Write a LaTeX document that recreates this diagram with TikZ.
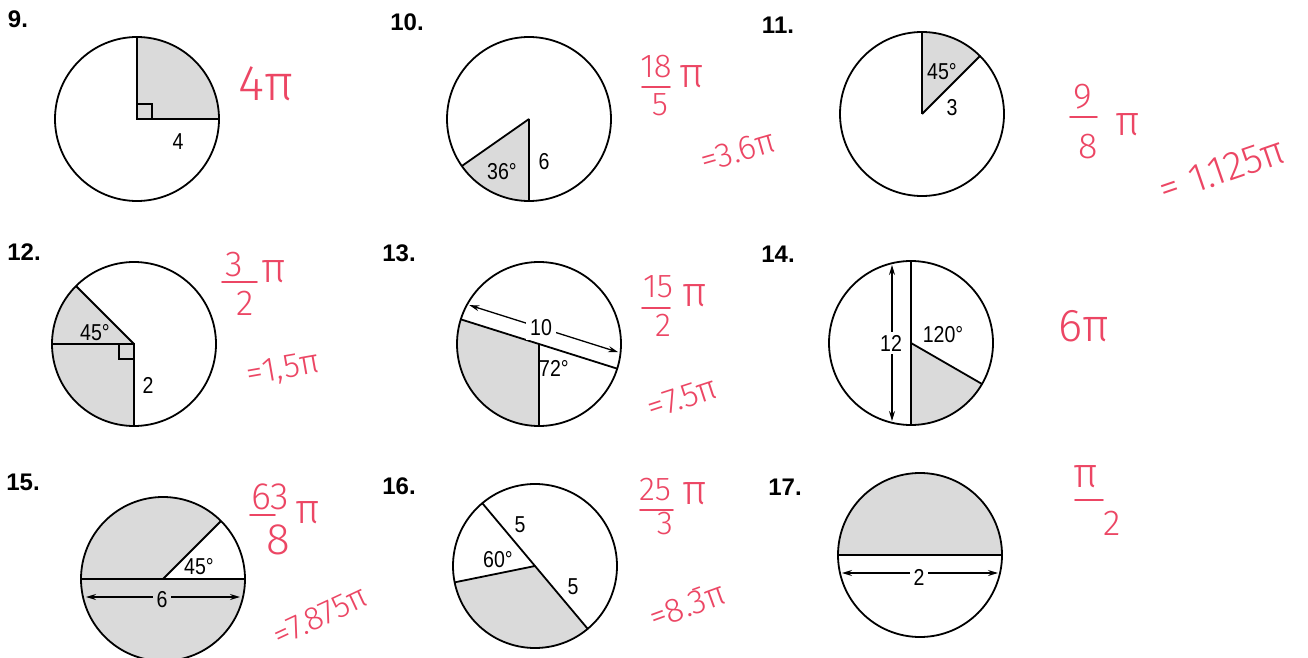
\documentclass[tikz,border=0pt]{standalone}
\usepackage{fontspec}
\setmainfont{Liberation Sans}
\newfontfamily\cond{Liberation Sans}[FakeStretch=0.85]
\newfontfamily\hand{Fira Sans}[UprightFont={* Light}]
\usetikzlibrary{arrows.meta}
\definecolor{ansred}{RGB}{236,70,100}
\definecolor{shadegray}{RGB}{218,218,218}
\begin{document}
\begin{tikzpicture}[x=1pt,y=1pt,
  outline/.style={line width=1.8pt,draw=black},
  ray/.style={line width=1.8pt,draw=black},
  shadefill/.style={fill=shadegray},
  rmark/.style={line width=1.4pt,draw=black},
  dimarrow/.style={line width=1.3pt,{Stealth[length=10pt,width=6pt]}-{Stealth[length=10pt,width=6pt]}},
  lab/.style={font=\cond\fontsize{23}{25}\selectfont,inner sep=1pt},
  num/.style={font=\bfseries\fontsize{24}{26}\selectfont,inner sep=0pt},
  ans/.style={text=ansred,inner sep=0pt},
  fbar/.style={draw=ansred,line width=1.6pt,line cap=round}]
\useasboundingbox (0,0) rectangle (1308,657);
\fill[white] (0,0) rectangle (1308,657);

% ---------- 9 ----------
\coordinate (c9) at (137,538);
\fill[shadefill] (c9) -- +(0:82) arc[start angle=0,end angle=90,radius=82] -- cycle;
\draw[rmark] (c9) rectangle +(15,15);
\draw[ray] (c9) -- +(90:82) (c9) -- +(0:82);
\draw[outline] (c9) circle[radius=82];
\node[lab] (l9) at (178,515) {4};
\node[num] (n9) at (18,638) {9.};
\node[ans,font=\hand\fontsize{50}{52}\selectfont] (a9) at (266,573) {4π};

% ---------- 10 ----------
\coordinate (c10) at (529,538);
\fill[shadefill] (c10) -- +(215:82) arc[start angle=215,end angle=270,radius=82] -- cycle;
\draw[ray] (c10) -- +(215:82) (c10) -- +(270:82);
\draw[outline] (c10) circle[radius=82];
\node[lab] (l10a) at (502,485) {36°};
\node[lab] (l10b) at (544,495) {6};
\node[num] (n10) at (407,635) {10.};
\node[ans,font=\hand\fontsize{33}{35}\selectfont] (a10n) at (656,590) {18};
\draw[fbar] (642,570) -- (670,570);
\node[ans,font=\hand\fontsize{33}{35}\selectfont] (a10d) at (660,552) {5};
\node[ans,font=\hand\fontsize{42}{44}\selectfont] (a10p) at (692,580) {π};
\node[ans,font=\hand\fontsize{34}{36}\selectfont,rotate=16] (a10e) at (738,506) {=3.6π};

% ---------- 11 ----------
\coordinate (c11) at (922,543);
\fill[shadefill] (c11) -- +(45:82) arc[start angle=45,end angle=90,radius=82] -- cycle;
\draw[ray] (c11) -- +(45:82) (c11) -- +(90:82);
\draw[outline] (c11) circle[radius=82];
\node[lab] (l11a) at (942,585) {45°};
\node[lab] (l11b) at (952,549) {3};
\node[num] (n11) at (778,632) {11.};
\node[ans,font=\hand\fontsize{36}{38}\selectfont] (a11n) at (1083,560) {9};
\draw[fbar] (1070,540) -- (1097,540);
\node[ans,font=\hand\fontsize{36}{38}\selectfont] (a11d) at (1088,510) {8};
\node[ans,font=\hand\fontsize{42}{44}\selectfont] (a11p) at (1128,532) {π};
\node[ans,font=\hand\fontsize{40}{42}\selectfont,rotate=19] (a11e) at (1222,487) {= 1.125π};

% ---------- 12 ----------
\coordinate (c12) at (134,313);
\fill[shadefill] (c12) -- +(135:82) arc[start angle=135,end angle=270,radius=82] -- cycle;
\draw[rmark] (c12) rectangle +(-15,-15);
\draw[ray] (c12) -- +(135:82) (c12) -- +(180:82) (c12) -- +(270:82);
\draw[outline] (c12) circle[radius=82];
\node[lab] (l12a) at (95,324) {45°};
\node[lab] (l12b) at (148,272) {2};
\node[num] (n12) at (24,405) {12.};
\node[ans,font=\hand\fontsize{36}{38}\selectfont] (a12n) at (234,392) {3};
\draw[fbar] (222,375) -- (257,375);
\node[ans,font=\hand\fontsize{36}{38}\selectfont] (a12d) at (245,354) {2};
\node[ans,font=\hand\fontsize{42}{44}\selectfont] (a12p) at (274,385) {π};
\node[ans,font=\hand\fontsize{34}{36}\selectfont,rotate=10] (a12e) at (283,287) {=1,5π};

% ---------- 13 ----------
\coordinate (c13) at (539,313);
\fill[shadefill] (c13) -- +(162.5:82) arc[start angle=162.5,end angle=270,radius=82] -- cycle;
\draw[ray] (c13) +(162.5:82) -- +(342.5:82) (c13) -- +(270:82);
\draw[outline] (c13) circle[radius=82];
\coordinate (d13a) at (469.4,351.8);
\coordinate (d13b) at (618.2,304.8);
\draw[dimarrow] (d13a) -- (d13b);
\node[lab,fill=white,inner sep=4pt] (l13a) at (541,329) {10};
\node[lab] (l13b) at (554,289) {72°};
\node[num] (n13) at (399,404) {13.};
\node[ans,font=\hand\fontsize{33}{35}\selectfont] (a13n) at (658,370) {15};
\draw[fbar] (642,349) -- (670,349);
\node[ans,font=\hand\fontsize{33}{35}\selectfont] (a13d) at (663,332) {2};
\node[ans,font=\hand\fontsize{42}{44}\selectfont] (a13p) at (695,361) {π};
\node[ans,font=\hand\fontsize{34}{36}\selectfont,rotate=18] (a13e) at (682,259) {=7.5π};

% ---------- 14 ----------
\coordinate (c14) at (911,314);
\fill[shadefill] (c14) -- +(270:82) arc[start angle=270,end angle=330,radius=82] -- cycle;
\draw[ray] (c14) +(90:82) -- +(270:82) (c14) -- +(330:82);
\draw[outline] (c14) circle[radius=82];
\coordinate (d14a) at (892,392);
\coordinate (d14b) at (892,236);
\draw[dimarrow] (d14a) -- (d14b);
\node[lab,fill=white,inner sep=3pt] (l14a) at (891,314) {12};
\node[lab] (l14b) at (943,322) {120°};
\node[num] (n14) at (778,403) {14.};
\node[ans,font=\hand\fontsize{46}{48}\selectfont] (a14) at (1084,331) {6π};

% ---------- 15 ----------
\coordinate (c15) at (163,78);
\fill[shadefill] (c15) circle[radius=82];
\fill[white] (c15) -- +(0:82) arc[start angle=0,end angle=45,radius=82] -- cycle;
\draw[ray] (c15) +(0:82) -- +(180:82) (c15) -- +(45:82);
\draw[outline] (c15) circle[radius=82];
\coordinate (d15a) at (86,60);
\coordinate (d15b) at (240,60);
\draw[dimarrow] (d15a) -- (d15b);
\node[lab,fill=shadegray,inner sep=4pt] (l15a) at (162,57) {6};
\node[lab] (l15b) at (199,90) {45°};
\node[num] (n15) at (23,175) {15.};
\node[ans,font=\hand\fontsize{38}{40}\selectfont] (a15n) at (270,160) {63};
\draw[fbar] (250,142) -- (275,142);
\node[ans,font=\hand\fontsize{44}{46}\selectfont] (a15d) at (278,117) {8};
\node[ans,font=\hand\fontsize{42}{44}\selectfont] (a15p) at (308,144) {π};
\node[ans,font=\hand\fontsize{33}{35}\selectfont,rotate=25] (a15e) at (320,41) {=7.875π};

% ---------- 16 ----------
\coordinate (c16) at (535,91);
\fill[shadefill] (c16) -- +(191.5:82) arc[start angle=191.5,end angle=310,radius=82] -- cycle;
\draw[ray] (c16) +(130:82) -- +(310:82) (c16) -- +(191.5:82);
\draw[outline] (c16) circle[radius=82];
\node[lab] (l16a) at (520,132) {5};
\node[lab] (l16b) at (573,70) {5};
\node[lab] (l16c) at (498,97) {60°};
\node[num] (n16) at (399,171) {16.};
\node[ans,font=\hand\fontsize{33}{35}\selectfont] (a16n) at (655,167) {25};
\draw[fbar] (640,147) -- (673,147);
\node[ans,font=\hand\fontsize{33}{35}\selectfont] (a16d) at (665,133) {3};
\node[ans,font=\hand\fontsize{42}{44}\selectfont] (a16p) at (695,163) {π};
\node[ans,font=\hand\fontsize{34}{36}\selectfont,rotate=20] (a16e) at (687,52) {=8.3̄π};

% ---------- 17 ----------
\coordinate (c17) at (920,102);
\fill[shadefill] (c17) +(0:82) arc[start angle=0,end angle=180,radius=82] -- cycle;
\draw[ray] (c17) +(0:82) -- +(180:82);
\draw[outline] (c17) circle[radius=82];
\coordinate (d17a) at (842,84);
\coordinate (d17b) at (998,84);
\draw[dimarrow] (d17a) -- (d17b);
\node[lab,fill=white,inner sep=4pt] (l17a) at (919,80) {2};
\node[num] (n17) at (785,170) {17.};
\node[ans,font=\hand\fontsize{42}{44}\selectfont] (a17n) at (1086,180) {π};
\draw[fbar] (1075,157) -- (1103,157);
\node[ans,font=\hand\fontsize{36}{38}\selectfont] (a17d) at (1112,134) {2};
\end{tikzpicture}
\end{document}
